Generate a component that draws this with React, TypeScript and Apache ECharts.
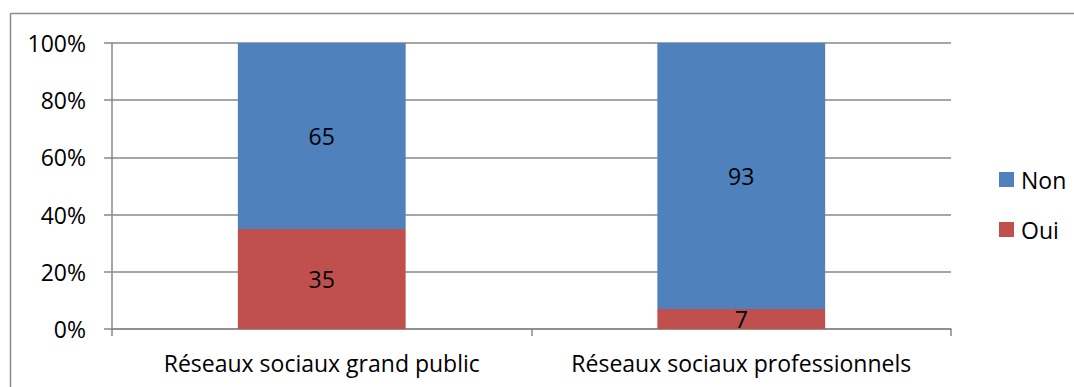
import React, { useEffect, useRef } from "react";
import * as echarts from "echarts";

const categories = ["Réseaux sociaux grand public", "Réseaux sociaux professionnels"];
const ouiValues = [35, 7];
const nonValues = [65, 93];
const seriesNames = ["Non", "Oui"];

const FONT = "'Open Sans', 'Noto Sans', sans-serif";
const FS = 23;
const AXIS_GRAY = "#898989";

export default function App() {
  const ref = useRef<HTMLDivElement>(null);
  useEffect(() => {
    if (!ref.current) return;
    const chart = echarts.init(ref.current, null, { renderer: "svg" });
    chart.setOption({
      animation: false,
      backgroundColor: "#ffffff",
      textStyle: { fontFamily: FONT, color: "#000" },
      graphic: [
        { type: "line", shape: { x1: 10.5, y1: 13.5, x2: 1074, y2: 13.5 }, style: { stroke: "#8c8c8c", lineWidth: 1.5 } },
        { type: "line", shape: { x1: 10.5, y1: 13.5, x2: 10.5, y2: 387 }, style: { stroke: "#8c8c8c", lineWidth: 1.5 } },
      ],
      grid: { left: 112, top: 43, right: 123, bottom: 58, containLabel: false },
      legend: {
        orient: "vertical",
        left: 994,
        top: 163,
        itemWidth: 15,
        itemHeight: 15,
        itemGap: 27,
        icon: "rect",
        data: seriesNames,
        textStyle: { fontFamily: FONT, fontSize: FS, color: "#000", padding: [0, 0, 0, 2] },
      },
      xAxis: {
        type: "category",
        data: categories,
        axisLine: { lineStyle: { color: AXIS_GRAY, width: 1.5 } },
        axisTick: { show: true, length: 7, lineStyle: { color: AXIS_GRAY, width: 1.5 } },
        axisLabel: { fontFamily: FONT, fontSize: FS, color: "#000", margin: 22, interval: 0 },
      },
      yAxis: {
        type: "value",
        min: 0,
        max: 100,
        interval: 20,
        axisLine: { show: true, lineStyle: { color: AXIS_GRAY, width: 1.5 } },
        axisTick: { show: true, length: 8, lineStyle: { color: AXIS_GRAY, width: 1.5 } },
        splitLine: { show: true, lineStyle: { color: AXIS_GRAY, width: 1.5 } },
        axisLabel: { fontFamily: FONT, fontSize: FS, color: "#000", margin: 26, formatter: "{value}%" },
      },
      series: [
        {
          name: "Oui",
          type: "bar",
          stack: "total",
          data: ouiValues,
          barWidth: "40%",
          itemStyle: { color: "#C0504D" },
          label: { show: true, position: "inside", fontFamily: FONT, fontSize: FS, color: "#000" },
        },
        {
          name: "Non",
          type: "bar",
          stack: "total",
          data: nonValues,
          barWidth: "40%",
          itemStyle: { color: "#4F81BD" },
          label: { show: true, position: "inside", fontFamily: FONT, fontSize: FS, color: "#000" },
        },
      ],
    });
    return () => chart.dispose();
  }, []);
  return <div ref={ref} style={{ position: "fixed", left: 0, top: 0, width: 1074, height: 387 }} />;
}
